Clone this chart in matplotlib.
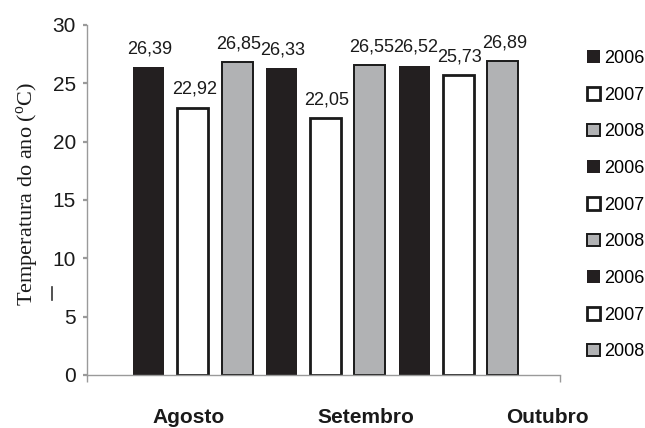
import matplotlib
matplotlib.use("Agg")
import matplotlib.pyplot as plt
from matplotlib.lines import Line2D
import numpy as np

# ---- data ----
months = ["Agosto", "Setembro", "Outubro"]
years = ["2006", "2007", "2008"]
values = [26.39, 22.92, 26.85, 26.33, 22.05, 26.55, 26.52, 25.73, 26.89]
value_labels = ["26,39", "22,92", "26,85", "26,33", "22,05", "26,55", "26,52", "25,73", "26,89"]
legend_labels = ["2006", "2007", "2008", "2006", "2007", "2008", "2006", "2007", "2008"]
yticks = [0, 5, 10, 15, 20, 25, 30]

# ---- style ----
plt.rcParams["font.family"] = ["Liberation Sans", "DejaVu Sans"]
plt.rcParams["mathtext.fontset"] = "custom"
plt.rcParams["mathtext.rm"] = "Liberation Serif"
face = {"2006": "#231f20", "2007": "#ffffff", "2008": "#b1b2b4"}
edgew = {"2006": 0.0, "2007": 2.0, "2008": 1.4}
gray = "#9a9a9a"

fig = plt.figure(figsize=(6.45, 4.28), dpi=100)
ax = fig.add_axes([87 / 645, 53 / 428, 473 / 645, 350 / 428])

x = np.arange(len(values))
handles = []
for i, (v, lab) in enumerate(zip(values, legend_labels)):
    b = ax.bar(x[i], v, width=0.7, color=face[lab], edgecolor="#1a1a1a",
               linewidth=edgew[lab], label=lab, zorder=2)
    handles.append(b)
    ax.annotate(value_labels[i], (x[i], v), xytext=(1, 7), textcoords="offset points",
                ha="center", va="bottom", fontsize=13, color="#1a1a1a")

ax.set_ylim(0, 30)
ax.set_xlim(-1.388, 9.29)
ax.set_yticks(yticks)
ax.set_yticklabels([str(t) for t in yticks], fontsize=15, color="#1a1a1a")
ax.set_xticks([-1.388, 9.29])
ax.set_xticklabels(["", ""])
ax.tick_params(axis="y", direction="out", length=3, width=1.6, color=gray, pad=5)
ax.tick_params(axis="x", direction="out", length=5, width=1, color=gray)
for s in ["top", "right"]:
    ax.spines[s].set_visible(False)
for s in ["left", "bottom"]:
    ax.spines[s].set_color(gray)
    ax.spines[s].set_linewidth(1.0)

# month labels under groups
month_x = [0.914, 4.91, 9.0]
for mx, m in zip(month_x, months):
    ax.text(mx, -0.137, m, transform=ax.get_xaxis_transform(), ha="center",
            va="baseline", fontsize=15, fontweight="bold", color="#1a1a1a")

# y label
fig.text(28 / 645, 1 - 194 / 428, r"Temperatura do ano ($^{\rm o}$C)", rotation=90,
         ha="center", va="center", fontsize=16, family="Liberation Serif", color="#1a1a1a")
fig.add_artist(Line2D([52 / 645, 52 / 645], [1 - 287 / 428, 1 - 300 / 428],
                      color="#333333", linewidth=1.2))

leg = fig.legend(handles=handles, labels=legend_labels, loc="upper left",
                 bbox_to_anchor=(587 / 645, 1 - 50 / 428), frameon=False,
                 fontsize=13, handlelength=0.7, handleheight=0.7, handletextpad=0.25,
                 labelspacing=1.09, borderpad=0, borderaxespad=0)

fig.savefig("out.png", dpi=100)
